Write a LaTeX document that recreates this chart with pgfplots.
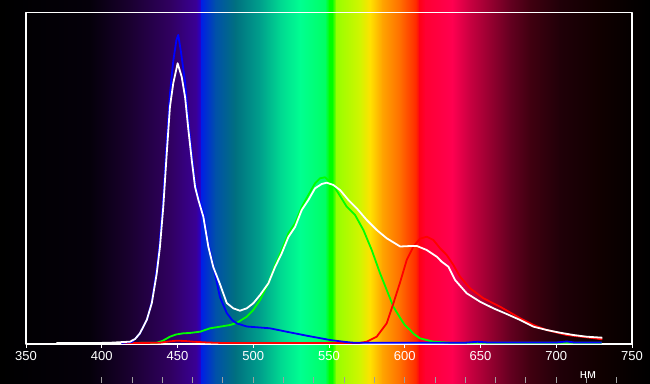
\documentclass[border=0pt]{standalone}
\usepackage{fontspec}
\setmainfont{Liberation Sans}
\usepackage{pgfplots}
\pgfplotsset{compat=1.18}
\definecolor{c0}{RGB}{0,0,0}
\definecolor{c1}{RGB}{5,0,10}
\definecolor{c2}{RGB}{26,0,48}
\definecolor{c3}{RGB}{48,0,96}
\definecolor{c4}{RGB}{58,0,150}
\definecolor{c5}{RGB}{40,0,200}
\definecolor{c6}{RGB}{0,30,230}
\definecolor{c7}{RGB}{0,80,170}
\definecolor{c8}{RGB}{0,112,128}
\definecolor{c9}{RGB}{0,160,140}
\definecolor{c10}{RGB}{0,215,145}
\definecolor{c11}{RGB}{0,255,145}
\definecolor{c12}{RGB}{0,255,100}
\definecolor{c13}{RGB}{0,255,0}
\definecolor{c14}{RGB}{150,255,0}
\definecolor{c15}{RGB}{210,245,0}
\definecolor{c16}{RGB}{255,225,0}
\definecolor{c17}{RGB}{255,165,0}
\definecolor{c18}{RGB}{255,110,0}
\definecolor{c19}{RGB}{255,40,0}
\definecolor{c20}{RGB}{255,0,20}
\definecolor{c21}{RGB}{255,0,50}
\definecolor{c22}{RGB}{255,0,80}
\definecolor{c23}{RGB}{200,0,64}
\definecolor{c24}{RGB}{150,0,48}
\definecolor{c25}{RGB}{100,0,32}
\definecolor{c26}{RGB}{64,0,16}
\definecolor{c27}{RGB}{32,0,8}
\definecolor{c28}{RGB}{16,0,0}
\definecolor{c29}{RGB}{5,0,0}
\begin{document}
\begin{tikzpicture}[x=1pt,y=1pt]
\useasboundingbox (0,0) rectangle (650,383);
\fill[black] (0,0) rectangle (650,383);
\foreach \xa/\ca/\xb/\cb in {0/c0/90/c1, 90/c1/130/c2, 130/c2/170/c3, 170/c3/196/c4, 196/c4/200/c5, 200/c5/201/c6, 201/c6/215/c7, 215/c7/235/c8, 235/c8/260/c9, 260/c9/280/c10, 280/c10/300/c11, 300/c11/325/c12, 325/c12/329/c13, 329/c13/332/c13, 332/c13/336/c14, 336/c14/360/c15, 360/c15/370/c16, 370/c16/382/c17, 382/c17/400/c18, 400/c18/416/c19, 416/c19/419/c20, 419/c20/425/c21, 425/c21/452/c22, 452/c22/470/c23, 470/c23/490/c24, 490/c24/510/c25, 510/c25/530/c26, 530/c26/560/c27, 560/c27/600/c28, 600/c28/632/c29, 632/c29/650/c0}
{\shade[left color=\ca, right color=\cb] (\xa,0) rectangle ({\xb+0.4},383);}
\foreach \n in {400,420,...,740}
{\draw[gray!75, line width=1pt] ({26+(\n-350)*1.515},0) -- ({26+(\n-350)*1.515},6);}
\node[white, font=\fontsize{13}{15}\selectfont] at (588,8) {нм};
\begin{axis}[
  at={(26pt,39pt)}, anchor=south west,
  scale only axis, width=606pt, height=331.5pt,
  xmin=350, xmax=750, ymin=0, ymax=331.5,
  axis line style={white, line width=1.5pt},
  xtick={350,400,...,750}, ytick=\empty,
  xtick pos=bottom,
  tick align=outside, major tick length=4pt,
  tick style={white, line width=1pt},
  xticklabel style={white, font=\fontsize{13}{15}\selectfont},
  /pgf/number format/assume math mode=true,
  line join=round,
]
\addplot[color={rgb,255:red,0;green,255;blue,0}, line width=1.8pt] coordinates {
(413,1)(436,1.2)(440,3)(445,7.3)(449,9.5)(453.8,10.7)(458,11)(464.9,12.3)(471.5,15.7)(478,17.3)(484.7,19)(489,21)(495.7,27.3)(500,34)(504.5,44)(510,60.7)(514.4,79)(518.8,94)(523.2,110.7)(527.6,120.7)(532,137)(536.4,149)(540.8,160.7)(544.1,165.7)(547.4,166.7)(551.8,160.7)(556.2,150.7)(561.7,137.3)(567.2,129)(572.7,114)(578.2,94)(583.7,70.7)(588.1,54)(592.5,37.3)(597,26)(600,19)(603.5,14)(606,10)(610,5.7)(618.9,2.3)(630,1.3)(700,1.2)(730,1.2)};
\addplot[color={rgb,255:red,255;green,0;blue,0}, line width=1.8pt] coordinates {
(413,1)(438,1.2)(444,2.5)(449.5,3.3)(455,3)(460.4,2.3)(470,1.5)(480,1)(570,1)(574.9,2.3)(581.5,7.3)(588.1,20.7)(592.5,40.7)(597,62)(601.3,84)(605.7,97.3)(610,105.3)(614.5,107.3)(618.9,104)(623.3,95.7)(627.7,89)(632.1,79)(636.5,67.3)(643.1,55.7)(651.9,45.7)(662.9,37.3)(676.2,25.7)(685,19)(693.7,14)(706.9,9)(720.1,6.7)(730.4,4.7)};
\addplot[color={rgb,255:red,0;green,0;blue,255}, line width=1.8pt] coordinates {
(413,1)(420,2)(425,10)(430,25)(433,42)(436,72)(438.2,100)(440.4,142)(442.7,198)(445,250)(447.2,283)(449.3,304)(450.5,309)(452.3,292)(455,262)(457.2,222)(459.4,190)(461.6,162)(463.8,147)(467.1,130)(470.4,100)(473.6,78)(478,47)(482.5,31)(486,24)(489,20.7)(495.7,17.5)(511,15.7)(522,12.3)(535.3,8.3)(550.7,4)(560,2.2)(566,1.3)(600,1.2)(640,1.3)(648,2.2)(655,1.5)(700,1.5)(707,2.5)(712,1.5)(730,1.5)};
\addplot[color=white, line width=1.8pt] coordinates {
(370,1)(395,1)(405,1.2)(412,1.8)(418.6,2.3)(422,5)(425.2,10.7)(429.7,24)(433,40.7)(436.3,70.7)(438.4,97)(440.6,137)(442.9,190.7)(445,237)(447.2,260.7)(450.1,280.7)(452.8,267)(455,247)(457.2,214)(459.4,184)(461.6,157)(463.8,144)(467.1,127)(470.4,97)(473.6,77)(478,60)(482.5,41)(486.8,35.7)(491.2,33.3)(495.7,35.7)(500,40.7)(504.5,49)(510,60.7)(514.4,77)(518.8,90.7)(523.2,107)(527.6,117)(532,134)(536.4,144)(540.8,155.7)(545.2,160)(548.5,161.3)(552.9,159)(557.3,154)(562.8,144)(568.3,135.7)(574.9,124)(581.5,114)(588.1,105.7)(597,97.5)(604,98)(608,98)(614.5,94)(621.1,87.3)(624.4,82.3)(628.8,77.3)(633.2,64)(640.9,50.7)(649.7,42.3)(658.5,35.7)(667.3,30)(676.2,24)(685,17.3)(693.7,14)(702.5,11.3)(711.3,9)(720.1,7.3)(730.4,6.3)};
\end{axis}
\end{tikzpicture}
\end{document}
